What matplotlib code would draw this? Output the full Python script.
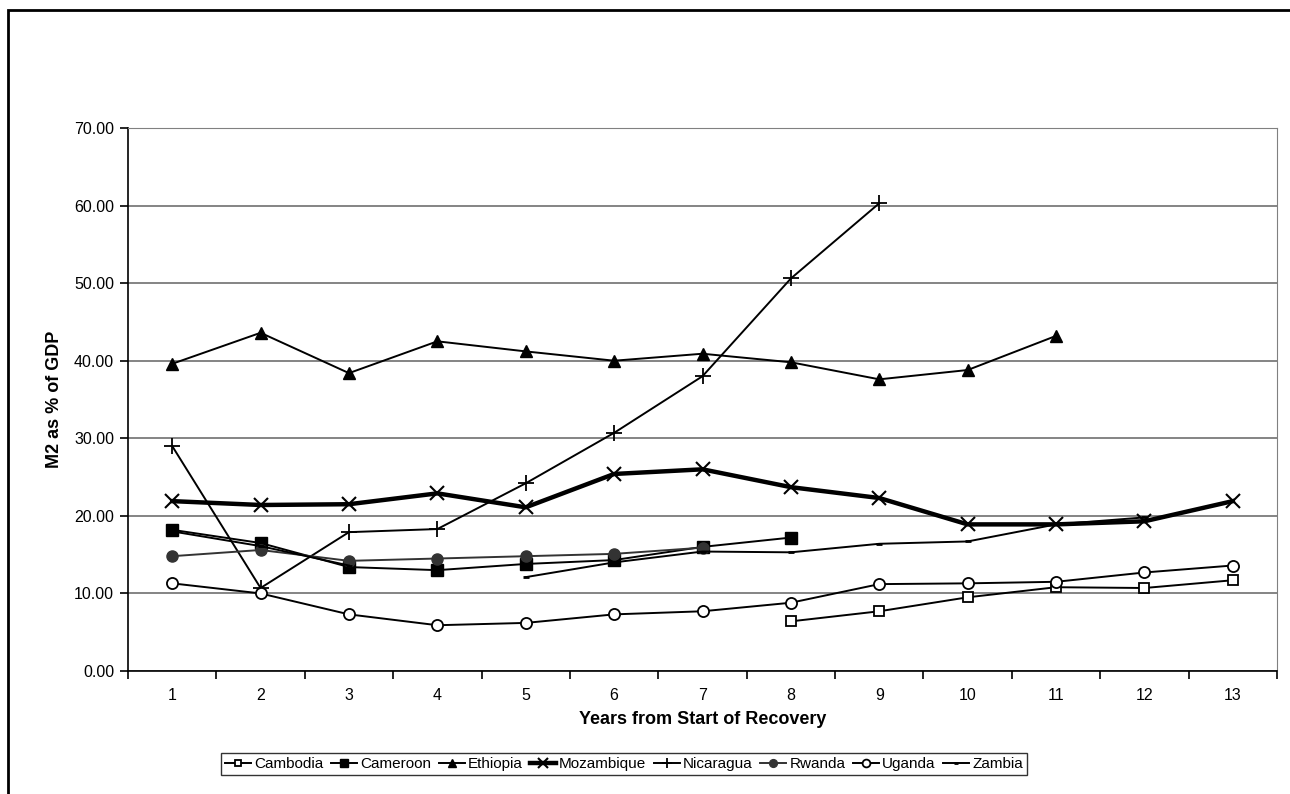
import numpy as np
import matplotlib
matplotlib.use("Agg")
import matplotlib.pyplot as plt
from matplotlib.patches import Rectangle

plt.rcParams['font.family'] = ['Liberation Sans', 'DejaVu Sans']

years = list(range(1, 14))
nan = np.nan

cambodia = [nan, nan, nan, nan, nan, nan, nan, 6.4, 7.7, 9.5, 10.8, 10.7, 11.7]
cameroon = [18.2, 16.5, 13.4, 13.0, 13.8, 14.3, 16.0, 17.2, nan, nan, nan, nan, nan]
ethiopia = [39.6, 43.6, 38.4, 42.5, 41.2, 40.0, 40.9, 39.8, 37.6, 38.8, 43.2, nan, nan]
mozambique = [21.9, 21.4, 21.5, 22.9, 21.1, 25.4, 26.0, 23.7, 22.3, 18.9, 18.9, 19.3, 21.9]
nicaragua = [29.0, 10.7, 17.9, 18.3, 24.2, 30.7, 38.0, 50.6, 60.3, nan, nan, nan, nan]
rwanda = [14.8, 15.6, 14.2, 14.5, 14.8, 15.1, 15.9, nan, nan, nan, nan, nan, nan]
uganda = [11.3, 10.0, 7.3, 5.9, 6.2, 7.3, 7.7, 8.8, 11.2, 11.3, 11.5, 12.7, 13.6]
zambia = [18.0, 16.1, 13.6, nan, 12.1, 14.0, 15.4, 15.3, 16.4, 16.7, 18.9, 19.8, nan]

fig = plt.figure(figsize=(12.9, 7.94), dpi=100)
ax = fig.add_axes([128 / 1290, 1 - 671 / 794, 1149 / 1290, 543 / 794])

# outer chart frame (cut off at right and bottom like the original)
fig.patches.append(Rectangle((8 / 1290, -0.05), 1.2, 1 - 10 / 794 + 0.05,
                             transform=fig.transFigure, fill=False,
                             edgecolor='black', linewidth=2))

lw = 1.4
ax.plot(years, cambodia, color='black', lw=lw, marker='s', ms=7, mfc='white', mew=1.3, label='Cambodia')
ax.plot(years, cameroon, color='black', lw=lw, marker='s', ms=8, label='Cameroon')
ax.plot(years, ethiopia, color='black', lw=lw, marker='^', ms=8, label='Ethiopia')
ax.plot(years, mozambique, color='black', lw=3.2, marker='x', ms=10, mew=1.5, label='Mozambique')
ax.plot(years, nicaragua, color='black', lw=lw, marker='+', ms=11, mew=1.3, label='Nicaragua')
ax.plot(years, rwanda, color='#333333', lw=lw, marker='o', ms=8, label='Rwanda')
ax.plot(years, uganda, color='black', lw=lw, marker='o', ms=8, mfc='white', mew=1.3, label='Uganda')
ax.plot(years, zambia, color='black', lw=lw, marker='_', ms=5, mew=2, label='Zambia')

ax.set_xlim(0.5, 13.5)
ax.set_ylim(0, 70)
ax.set_yticks(np.arange(0, 71, 10))
ax.set_yticklabels([f'{v:.2f}' for v in np.arange(0, 71, 10)])
ax.set_xticks(np.arange(0.5, 13.6, 1))
ax.set_xticklabels([])
ax.set_xticks(years, minor=True)
ax.set_xticklabels([str(y) for y in years], minor=True)
ax.tick_params(axis='x', which='major', direction='out', length=6, width=1.2)
ax.tick_params(axis='x', which='minor', length=0, pad=12, labelsize=11.5)
ax.tick_params(axis='y', direction='out', length=6, width=1.2, labelsize=11.5, pad=4)

ax.grid(axis='y', color='#707070', lw=1.2)
ax.set_axisbelow(True)
ax.spines['left'].set_linewidth(1.2)
ax.spines['bottom'].set_linewidth(1.2)
ax.spines['top'].set_color('#808080')
ax.spines['right'].set_color('#808080')

ax.set_xlabel('Years from Start of Recovery', fontsize=13, fontweight='bold', labelpad=6)
ax.set_ylabel('M2 as % of GDP', fontsize=13, fontweight='bold', labelpad=8)

leg = fig.legend(loc='center', bbox_to_anchor=(624 / 1290, 1 - 764 / 794), ncol=8,
                 frameon=True, fancybox=False, edgecolor='black', fontsize=11,
                 handlelength=1.7, handletextpad=0.2, columnspacing=0.5,
                 borderpad=0.25, markerscale=0.7)
leg.get_frame().set_linewidth(1.0)

fig.savefig('out.png', dpi=100)
